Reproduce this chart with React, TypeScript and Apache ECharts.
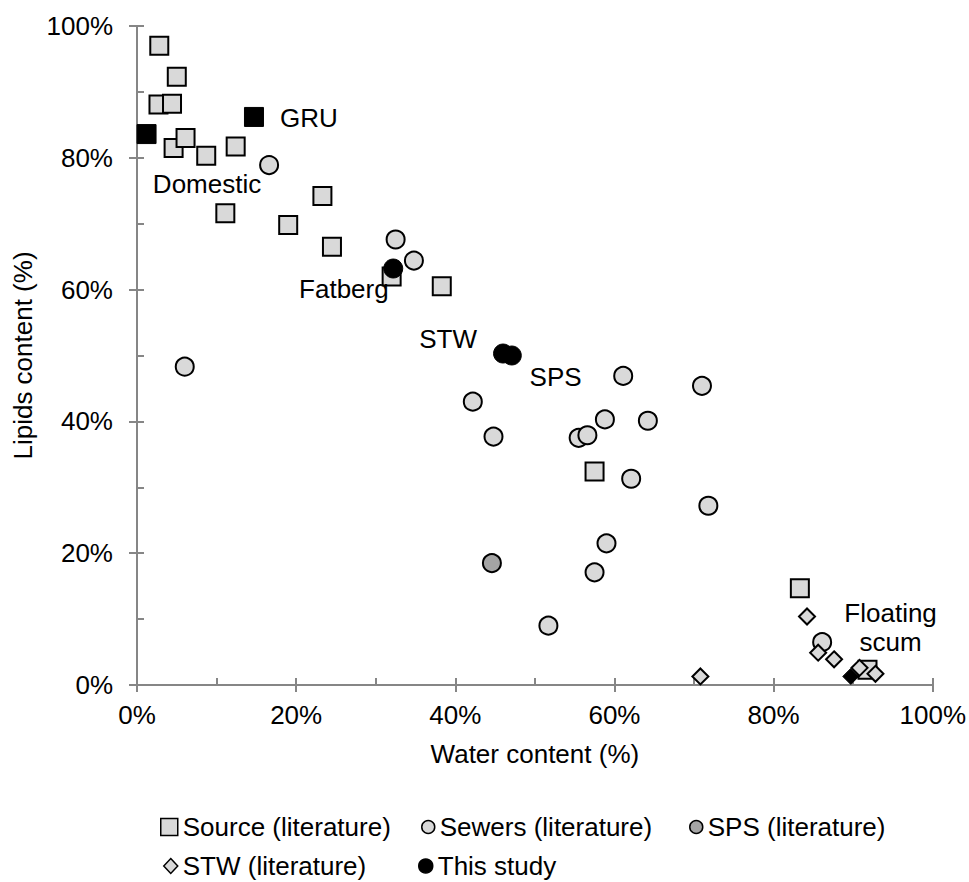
import React, { useEffect, useRef } from "react";
import * as echarts from "echarts";

// [water content %, lipids content %]
const sourceLiterature: number[][] = [
  [2.8, 97.0], [5.0, 92.3], [2.7, 88.1], [4.4, 88.2], [4.6, 81.5], [6.1, 83.0],
  [8.7, 80.3], [12.4, 81.7], [23.3, 74.2], [11.1, 71.6], [19.0, 69.8], [24.5, 66.5],
  [32.0, 62.0], [38.3, 60.5], [57.5, 32.4], [83.3, 14.7], [91.8, 2.3],
];
const sewersLiterature: number[][] = [
  [16.6, 78.9], [32.5, 67.6], [34.8, 64.4], [6.0, 48.3], [61.1, 46.9], [71.0, 45.4],
  [42.2, 43.0], [44.8, 37.7], [58.8, 40.3], [64.2, 40.1], [55.5, 37.5], [56.6, 37.9],
  [62.1, 31.3], [71.8, 27.2], [59.0, 21.5], [57.5, 17.1], [51.7, 9.0], [86.1, 6.5],
];
const spsLiterature: number[][] = [[44.6, 18.5]];
const stwLiterature: number[][] = [
  [84.2, 10.4], [85.6, 4.9], [87.6, 3.9], [70.8, 1.3], [90.8, 2.6], [92.8, 1.7],
];
const thisStudy: number[][] = [
  [32.2, 63.2], [46.0, 50.3], [47.1, 50.0], [1.2, 83.6], [14.7, 86.2], [89.7, 1.3],
];
const thisStudySymbols: string[] = ["circle", "circle", "circle", "rect", "rect", "diamond"];

const annotationNames: string[] = ["GRU", "Domestic", "Fatberg", "STW", "SPS", "Floating\nscum"];
const annotationPositions: number[][] = [
  [21.6, 86.0], [8.8, 76.0], [26.0, 60.1], [39.1, 52.5], [52.6, 46.7], [94.7, 8.8],
];

const seriesNames: string[] = [
  "Source (literature)", "Sewers (literature)", "SPS (literature)", "STW (literature)", "This study",
];

const FONT = "'Liberation Sans', Arial, sans-serif";
const AXIS_COLOR = "#868686";

export default function App() {
  const ref = useRef<HTMLDivElement>(null);

  useEffect(() => {
    if (!ref.current) return;
    const chart = echarts.init(ref.current, undefined, { renderer: "svg" });

    const axisLineStyle = { color: AXIS_COLOR, width: 2 };
    const textStyle = { fontFamily: FONT, fontSize: 26, color: "#000" };

    const legendBase = {
      orient: "horizontal",
      selectedMode: false,
      itemGap: 0,
      textStyle: { ...textStyle },
      itemStyle: { borderWidth: 1.5, borderColor: "#000" },
    };

    const option: any = {
      animation: false,
      backgroundColor: "#fff",
      textStyle: { fontFamily: FONT },
      grid: { left: 137, right: 36, top: 26, bottom: 197, containLabel: false },
      xAxis: [
        {
          type: "value", min: 0, max: 100, interval: 20, position: "bottom",
          axisLine: { show: true, lineStyle: axisLineStyle },
          axisTick: { show: true, length: 7, inside: false, lineStyle: axisLineStyle },
          axisLabel: { formatter: "{value}%", margin: 17, ...textStyle },
          splitLine: { show: false },
          name: "Water content (%)", nameLocation: "middle", nameGap: 56,
          nameTextStyle: { ...textStyle },
        },
        {
          type: "value", min: 0, max: 100, interval: 10, position: "bottom",
          axisLine: { show: false },
          axisTick: { show: true, length: 7, inside: true, lineStyle: axisLineStyle },
          axisLabel: { show: false },
          splitLine: { show: false },
        },
      ],
      yAxis: [
        {
          type: "value", min: 0, max: 100, interval: 20, position: "left",
          axisLine: { show: true, lineStyle: axisLineStyle },
          axisTick: { show: true, length: 8, inside: false, lineStyle: axisLineStyle },
          axisLabel: { formatter: "{value}%", margin: 24, ...textStyle },
          splitLine: { show: false },
          name: "Lipids content (%)", nameLocation: "middle", nameGap: 101,
          nameTextStyle: { ...textStyle },
        },
        {
          type: "value", min: 0, max: 100, interval: 10, position: "left", offset: 0,
          axisLine: { show: false },
          axisTick: { show: true, length: 7, inside: true, lineStyle: axisLineStyle },
          axisLabel: { show: false },
          splitLine: { show: false },
        },
      ],
      legend: [
        { ...legendBase, data: [seriesNames[0]], left: 155, top: 809, itemWidth: 17, itemHeight: 17 },
        { ...legendBase, data: [seriesNames[1]], left: 416, top: 809, itemWidth: 13, itemHeight: 13 },
        { ...legendBase, data: [seriesNames[2]], left: 684, top: 809, itemWidth: 13, itemHeight: 13 },
        { ...legendBase, data: [seriesNames[3]], left: 158, top: 848, itemWidth: 14, itemHeight: 15 },
        { ...legendBase, data: [seriesNames[4]], left: 413, top: 848, itemWidth: 14, itemHeight: 14 },
      ],
      series: [
        {
          name: seriesNames[0], type: "scatter", symbol: "rect", symbolSize: 18,
          itemStyle: { color: "#d9d9d9", borderColor: "#000", borderWidth: 2, opacity: 1 },
          data: sourceLiterature,
        },
        {
          name: seriesNames[1], type: "scatter", symbol: "circle", symbolSize: 18,
          itemStyle: { color: "#d9d9d9", borderColor: "#000", borderWidth: 2, opacity: 1 },
          data: sewersLiterature,
        },
        {
          name: seriesNames[2], type: "scatter", symbol: "circle", symbolSize: 18,
          itemStyle: { color: "#a5a5a5", borderColor: "#000", borderWidth: 2, opacity: 1 },
          data: spsLiterature,
        },
        {
          name: seriesNames[3], type: "scatter", symbol: "diamond", symbolSize: 16,
          itemStyle: { color: "#d9d9d9", borderColor: "#000", borderWidth: 2, opacity: 1 },
          data: stwLiterature,
        },
        {
          name: seriesNames[4], type: "scatter", symbol: "circle", symbolSize: 19,
          itemStyle: { color: "#000", borderColor: "#000", borderWidth: 1, opacity: 1 },
          data: thisStudy.map((v, i) => ({
            value: v,
            symbol: thisStudySymbols[i],
            symbolSize: thisStudySymbols[i] === "diamond" ? 16 : 19,
          })),
        },
        {
          name: "annotations", type: "scatter", symbolSize: 1, silent: true,
          itemStyle: { color: "rgba(0,0,0,0)" },
          label: {
            show: true, position: "inside", align: "center", verticalAlign: "middle",
            formatter: (p: any) => p.name, lineHeight: 29,
            fontFamily: FONT, fontSize: 26, color: "#000",
            textBorderWidth: 0, textBorderColor: "transparent", opacity: 1,
          },
          data: annotationPositions.map((v, i) => ({ name: annotationNames[i], value: v })),
          z: 10,
        },
      ],
    };

    chart.setOption(option);
    return () => chart.dispose();
  }, []);

  return (
    <div
      ref={ref}
      style={{ position: "fixed", left: 0, top: 0, width: 969, height: 882, background: "#fff" }}
    />
  );
}
